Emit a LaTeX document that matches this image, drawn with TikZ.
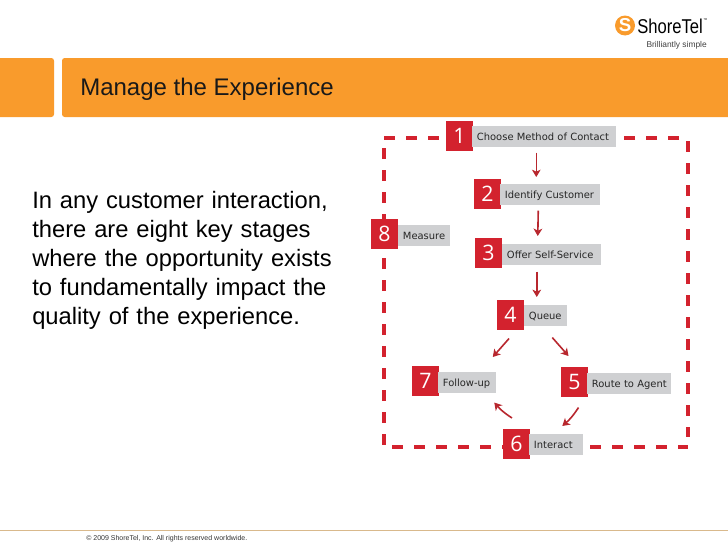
\documentclass[tikz,border=0pt]{standalone}
\usepackage{fontspec}
\setmainfont{Liberation Sans}
\newfontfamily\stagefont{DejaVu Sans}
\newfontfamily\tagfont{Open Sans}
\usetikzlibrary{calc, arrows.meta}

\definecolor{barorange}{HTML}{F99B2C}
\definecolor{stagered}{HTML}{D3222E}
\definecolor{arrowred}{HTML}{B8272E}
\definecolor{labelgray}{HTML}{CFD0D2}
\definecolor{footline}{HTML}{D9B98C}

\tikzset{
  stagetag/.style={fill=stagered, text=white, anchor=north west, inner sep=0pt, align=center,
    minimum width=26.5*0.75pt, minimum height=30*0.75pt, font=\tagfont\fontsize{16}{16}\selectfont},
  stagelabel/.style={fill=labelgray, text=black!85, anchor=north west, inner ysep=0pt, inner xsep=3.5pt, align=left,
    text width=#1*0.75pt-7pt, text height=6.5pt, text depth=1.5pt, minimum height=21*0.75pt,
    font=\stagefont\fontsize{7.45}{8}\selectfont},
  dashframe/.style={draw=stagered, line width=3pt, dash pattern=on 8.25pt off 8.25pt},
  flow/.style={draw=arrowred, line width=1.2pt, -{Stealth[length=5.5pt, width=6.5pt, inset=1.5pt]}},
}

\begin{document}
\begin{tikzpicture}[x=0.75pt, y=-0.75pt]
\useasboundingbox (0,0) rectangle (728,546);

% title bar
\fill[barorange, rounded corners=2pt] (-8,58) rectangle (54,117);
\fill[barorange, rounded corners=2pt] (62,58) rectangle (740,117);
\node[anchor=base west, inner sep=0pt, text=black!90, font=\fontsize{18}{18}\selectfont] (title) at (80,95) {Manage the Experience};

% logo
\fill[barorange] (625,25.5) circle [radius=10];
\node[inner sep=0pt, text=white, font=\bfseries\fontsize{14}{14}\selectfont] (logomark) at (625,25.5) {S};
\node[anchor=base west, inner sep=0pt, font=\fontsize{15}{15}\selectfont] (logotext) at (637,33) {\scalebox{.83}[1]{ShoreTel}};
\node[anchor=south west, inner sep=0pt, font=\fontsize{3}{3}\selectfont] (logotm) at ($(logotext.north east)+(0,4)$) {™};
\node[anchor=base east, inner sep=0pt, text=black!75, font=\fontsize{6.3}{6.3}\selectfont] (logoline) at (707,47) {Brilliantly simple};

% body text
\node[anchor=base west, inner sep=0pt, font=\fontsize{17.8}{21.75}\selectfont, align=left, text width=290pt] (body) at (32,208)
  {In any customer interaction,\\there are eight key stages\\where the opportunity exists\\to fundamentally impact the\\quality of the experience.};

% footer
\draw[footline, line width=0.75pt] (0,530) -- (728,530);
\node[anchor=base west, inner sep=0pt, text=black!80, font=\fontsize{5.25}{5.25}\selectfont] (footer) at (86,540) {© 2009 ShoreTel, Inc. All rights reserved worldwide.};

% dashed frame
\draw[dashframe] (384,138) -- (440,138);
\draw[dashframe] (679,138) -- (624,138);
\draw[dashframe] (384,148) -- (384,446);
\draw[dashframe] (688,141) -- (688,437);
\draw[dashframe] (392,447) -- (688,447);

% stages
\node[stagetag] (tag1) at (446,121) {1};
\node[stagelabel=144] (lab1) at (472,126) {\mbox{Choose Method of Contact}};
\node[stagetag] (tag2) at (474,179) {2};
\node[stagelabel=100] (lab2) at (500,184) {\mbox{Identify Customer}};
\node[stagetag] (tag3) at (475,238) {3};
\node[stagelabel=99] (lab3) at (502,244) {\mbox{Offer Self-Service}};
\node[stagetag] (tag4) at (497,300) {4};
\node[stagelabel=43] (lab4) at (524,305) {Queue};
\node[stagetag] (tag5) at (561,367) {5};
\node[stagelabel=84] (lab5) at (587,373) {\mbox{Route to Agent}};
\node[stagetag] (tag6) at (503,429) {6};
\node[stagelabel=54] (lab6) at (529,434) {Interact};
\node[stagetag] (tag7) at (412,366) {7};
\node[stagelabel=58] (lab7) at (438,372) {Follow-up};
\node[stagetag] (tag8) at (371,219) {8};
\node[stagelabel=52] (lab8) at (398,225) {Measure};

% arrows
\draw[flow, line width=0.8pt] ($(lab1.south)+(-8,5)$) -- ($(lab2.north)+(-14,-7)$);
\draw[flow] ($(lab2.south)+(-12,5)$) -- ($(lab3.north)+(-14,-8)$);
\draw[flow] ($(lab3.south)+(-15,6)$) -- ($(lab4.north)+(-9,-8)$);
\draw[flow] ($(tag4.south)+(-1.5,8)$) -- ($(lab7.north)+(25.5,-15)$);
\draw[flow] ($(lab4.south)+(6.5,11)$) -- ($(tag5.north)+(-6,-11)$);
\draw[flow] ($(tag5.south)+(4,10)$) to[bend left=8] ($(lab6.north)+(6,-8)$);
\draw[flow] ($(tag6.north)+(-4.5,-11)$) to[bend left=8] ($(lab7.south)+(27,9)$);

\end{tikzpicture}
\end{document}
